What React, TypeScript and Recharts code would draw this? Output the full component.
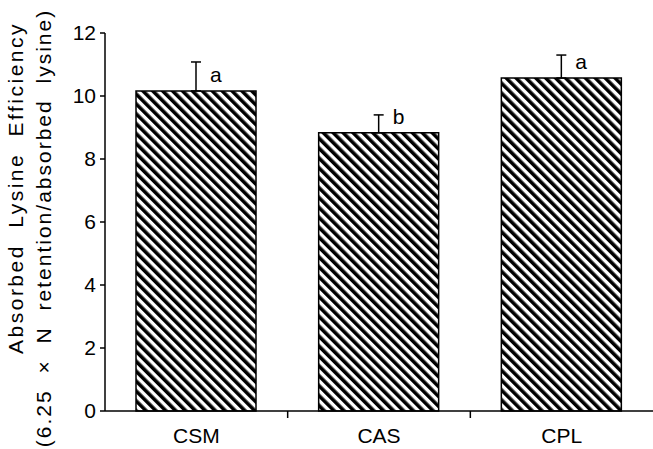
import { BarChart, Bar, XAxis, YAxis, ErrorBar, LabelList } from "recharts";

const categories = ["CSM", "CAS", "CPL"];
const means = [10.16, 8.83, 10.57];
const sems = [0.92, 0.57, 0.73];
const letters = ["a", "b", "a"];
const yTicks = [0, 2, 4, 6, 8, 10, 12];

const W = 653;
const H = 449;
const AXIS_W = 105;
const FONT = "'Liberation Sans', Arial, Helvetica, sans-serif";

const data = categories.map((name, i) => ({
  name,
  value: means[i],
  err: [0, sems[i]],
  letter: letters[i],
}));

const bandWidth = (W - AXIS_W) / categories.length;

const XTick = (props: any) => {
  const { x, y, payload, index } = props;
  const axisY = y - 8;
  return (
    <g>
      <text
        x={x}
        y={axisY + 32}
        textAnchor="middle"
        fontSize={21}
        fontFamily={FONT}
        fill="#000"
      >
        {payload.value}
      </text>
      {index < categories.length - 1 && (
        <line
          x1={x + bandWidth / 2}
          x2={x + bandWidth / 2}
          y1={axisY}
          y2={axisY + 7}
          stroke="#000"
          strokeWidth={1.5}
        />
      )}
    </g>
  );
};

const YLabel = () => (
  <g fontFamily={FONT} fontSize={21} fill="#000">
    <text
      x={15}
      y={188}
      transform="rotate(-90 15 188)"
      textAnchor="middle"
      dominantBaseline="central"
      letterSpacing={2.5}
      wordSpacing={8}
    >
      Absorbed Lysine Efficiency
    </text>
    <text
      x={43}
      y={228}
      transform="rotate(-90 43 228)"
      textAnchor="middle"
      dominantBaseline="central"
      letterSpacing={2}
      wordSpacing={8}
    >
      (6.25 × N retention/absorbed lysine)
    </text>
  </g>
);

const SigLetter = (props: any) => {
  const { x, y, width, index } = props;
  return (
    <text
      x={x + width / 2 + 14}
      y={y - 9}
      fontSize={21}
      fontFamily={FONT}
      fill="#000"
    >
      {letters[index]}
    </text>
  );
};

export default function App() {
  return (
    <div style={{ position: "relative", width: W, height: H, background: "#fff" }}>
      <style>{`body{margin:0}`}</style>
      <svg width={0} height={0} style={{ position: "absolute" }}>
        <defs>
          <pattern
            id="hatch"
            patternUnits="userSpaceOnUse"
            width={7}
            height={7}
            patternTransform="rotate(-45)"
          >
            <rect x={0} y={0} width={7} height={7} fill="#fff" />
            <rect x={0} y={0} width={3.6} height={7} fill="#000" />
          </pattern>
        </defs>
      </svg>
      <BarChart
        width={W}
        height={H}
        data={data}
        margin={{ top: 33, right: 0, left: 0, bottom: 0 }}
        barCategoryGap={0}
      >
        <XAxis
          dataKey="name"
          tickLine={false}
          axisLine={{ stroke: "#000", strokeWidth: 1.5 }}
          tick={<XTick />}
          interval={0}
          height={38}
        />
        <YAxis
          domain={[0, 12]}
          ticks={yTicks}
          width={AXIS_W}
          tickSize={5}
          tickMargin={4}
          axisLine={{ stroke: "#000", strokeWidth: 1.5 }}
          tickLine={{ stroke: "#000", strokeWidth: 1.5 }}
          tick={{ fontSize: 21, fontFamily: FONT, fill: "#000" }}
          label={{ content: () => <YLabel /> }}
        />
        <Bar
          dataKey="value"
          barSize={120}
          fill="url(#hatch)"
          stroke="#000"
          strokeWidth={1.5}
          isAnimationActive={false}
        >
          <ErrorBar
            dataKey="err"
            width={5}
            stroke="#000"
            strokeWidth={1.5}
            direction="y"
          />
          <LabelList dataKey="letter" content={<SigLetter />} />
        </Bar>
      </BarChart>
    </div>
  );
}
